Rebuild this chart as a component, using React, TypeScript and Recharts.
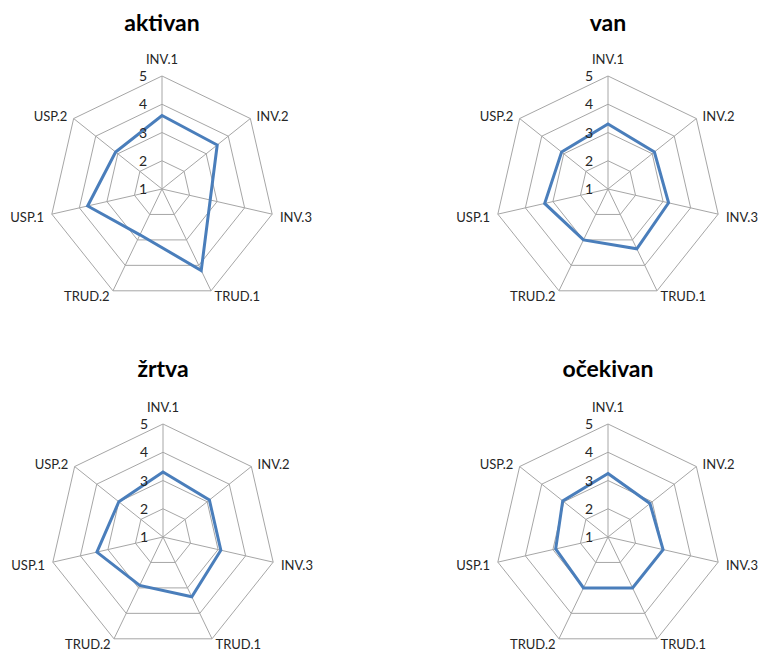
import { RadarChart, Radar, PolarGrid, PolarAngleAxis, PolarRadiusAxis } from 'recharts';

const categories = ['INV.1', 'INV.2', 'INV.3', 'TRUD.1', 'TRUD.2', 'USP.1', 'USP.2'];
const aktivan = [3.6, 3.5, 2.75, 4.2, 2.8, 3.7, 3.1];
const van = [3.3, 3.1, 3.2, 3.35, 3.0, 3.3, 3.1];
const zrtva = [3.3, 3.1, 3.1, 3.35, 2.9, 3.4, 3.0];
const ocekivan = [3.25, 2.9, 3.0, 3.0, 3.0, 2.9, 3.05];
const radiusTicks = [1, 2, 3, 4, 5];

const font = 'Lato, "Open Sans", sans-serif';

const panels = [
  { title: 'aktivan', values: aktivan, left: 0, top: 0, cx: 162, cy: 189, titleTop: 10 },
  { title: 'van', values: van, left: 380, top: 0, cx: 228, cy: 189, titleTop: 10 },
  { title: 'žrtva', values: zrtva, left: 0, top: 326, cx: 163, cy: 211, titleTop: 30 },
  { title: 'očekivan', values: ocekivan, left: 380, top: 326, cx: 228, cy: 211, titleTop: 30 },
];

const makeAngleTick = (cy: number) => (props: any) => {
  const { x, y, payload, textAnchor } = props;
  let dy = 3;
  if (textAnchor === 'middle') dy = y < cy ? -4 : 12;
  else if (y < cy - 50) dy = 7;
  else if (Math.abs(y - cy) <= 50) dy = 6;
  return (
    <text x={x} y={y + dy} textAnchor={textAnchor} fontSize={13} fill="#262626" fontFamily={font}>
      {payload.value}
    </text>
  );
};

const RadiusTick = (props: any) => {
  const { x, y, payload } = props;
  return (
    <text x={x - 15} y={y + 5} textAnchor="end" fontSize={14} fill="#262626" fontFamily={font}>
      {payload.value}
    </text>
  );
};

function Panel({ title, values, left, top, cx, cy, titleTop }: any) {
  const data = categories.map((c, i) => ({ axis: c, value: values[i] }));
  return (
    <div style={{ position: 'absolute', left, top, width: 379, height: 325 }}>
      <div
        style={{
          position: 'absolute',
          left: cx - 100,
          top: titleTop,
          width: 200,
          textAlign: 'center',
          fontFamily: font,
          fontWeight: 700,
          fontSize: 23,
          lineHeight: '24px',
          color: '#000',
        }}
      >
        {title}
      </div>
      <RadarChart width={379} height={325} data={data} cx={cx} cy={cy} outerRadius={113} margin={{ top: 0, right: 0, bottom: 0, left: 0 }}>
        <PolarGrid gridType="polygon" stroke="#a6a6a6" strokeWidth={1} />
        <PolarAngleAxis dataKey="axis" tickLine={false} axisLine={false} tick={makeAngleTick(cy)} />
        <PolarRadiusAxis
          angle={90}
          domain={[1, 5]}
          ticks={radiusTicks as any}
          tickCount={5}
          axisLine={false}
          tickLine={false}
          tick={RadiusTick}
        />
        <Radar
          dataKey="value"
          stroke="#4a7ebb"
          strokeWidth={3}
          fill="none"
          fillOpacity={0}
          dot={false}
          isAnimationActive={false}
        />
      </RadarChart>
    </div>
  );
}

export default function App() {
  return (
    <div style={{ position: 'absolute', left: 0, top: 0, width: 759, height: 651, background: '#fff' }}>
      {panels.map((p) => (
        <Panel key={p.title} {...p} />
      ))}
    </div>
  );
}
